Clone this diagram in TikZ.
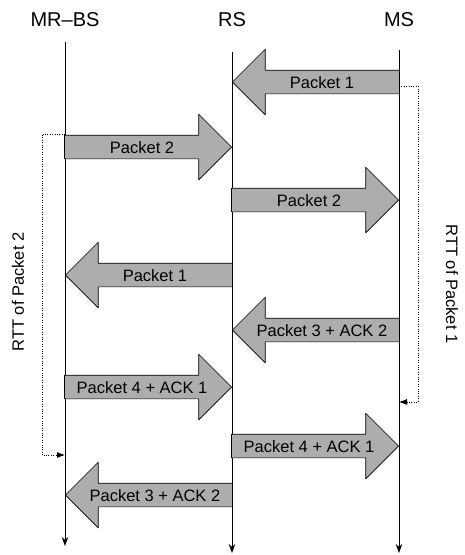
\documentclass[tikz,border=0pt]{standalone}
\usepackage{fontspec}
\setmainfont{Liberation Sans}
\usetikzlibrary{shapes.arrows,arrows.meta}
\begin{document}
\begin{tikzpicture}[x=1pt,y=-1pt,>={Stealth[length=9pt,width=6.5pt]},line join=round,
	msg/.style={single arrow,draw=black,line width=0.7pt,fill=black!32,
		font=\fontsize{16.5}{17}\selectfont,text height=12pt,text depth=0pt,
		inner xsep=1pt,inner ysep=5.5pt,single arrow head extend=21pt,
		single arrow head indent=0pt,minimum height=167pt,anchor=tip},
	rtt/.style={line width=0.8pt,dash pattern=on 0.8pt off 1.6pt,-{Latex[length=8pt,width=6pt]}},
	rttlabel/.style={font=\fontsize{16.5}{17}\selectfont},
	life/.style={line width=0.8pt,->}]
	\useasboundingbox (0,0) rectangle (464,555);
	\path (65,42) coordinate (bs) (232,52) coordinate (rs) (399,50) coordinate (ms)
		(65,546) coordinate (bse) (232,553) coordinate (rse) (399,553) coordinate (mse);
	\foreach \x/\t in {bs/MR--BS,rs/RS,ms/MS}
		{\node[font=\fontsize{20}{20}\selectfont] (h\x) at (\x |- 0,20) {\t};}
	\foreach \x in {bs,rs,ms}
		{\draw[life] (\x) -- (\x e);}
	% messages: from / to / height / rotation / text
	\foreach \a/\b/\y/\r/\t [count=\i] in {ms/rs/82/180/Packet 1,bs/rs/147/0/Packet 2,
		rs/ms/200/0/Packet 2,rs/bs/275/180/Packet 1,ms/rs/330/180/Packet 3 + ACK 2,
		bs/rs/387/0/Packet 4 + ACK 1,rs/ms/446/0/Packet 4 + ACK 1,rs/bs/495/180/Packet 3 + ACK 2}
		{\node[msg,shape border rotate=\r] (m\i) at (\b |- 0,\y) {\t};}
	% round trip times
	\draw[rtt] (ms |- 0,86) -| (418,280) |- (ms |- 0,402);
	\node[rttlabel,rotate=-90] (rtt1) at (452,284) {RTT of Packet 1};
	\draw[rtt] (bs |- 0,134) -| (42,292) |- (bs |- 0,455);
	\node[rttlabel,rotate=90] (rtt2) at (18,292) {RTT of Packet 2};
\end{tikzpicture}
\end{document}
